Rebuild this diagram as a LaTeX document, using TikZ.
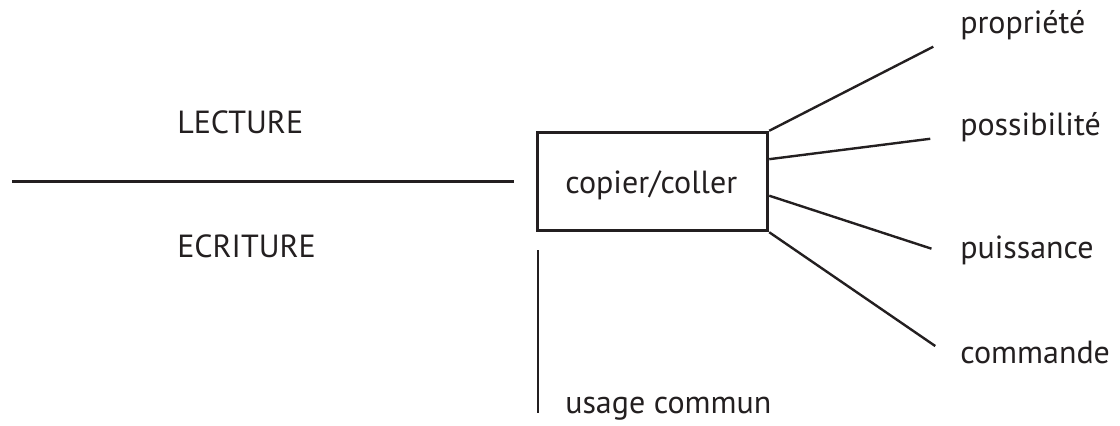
\documentclass[tikz,border=0pt]{standalone}
\usepackage{fontspec}
\setmainfont{PT Sans}
\usetikzlibrary{calc}
\definecolor{ink}{HTML}{231F20}

\begin{document}
\begin{tikzpicture}[x = 0.75pt, y = -0.75pt]
\tikzstyle{BoxStyle}=[shape = rectangle,
                      minimum width = 173pt,
                      minimum height = 74pt,
                      line width = 2.1pt,
                      draw = ink]
\tikzstyle{LabelStyle}=[inner sep = 0pt,
                        anchor = base west,
                        text = ink,
                        font = \fontsize{24}{29}\selectfont]
\tikzstyle{LinkStyle}=[line width = 1.8pt, draw = ink]
\useasboundingbox (0,0) rectangle (1120,425);
\node[BoxStyle] (box) at (652.5,181.5) {};
\node[LabelStyle] (copier) at (565,193) {copier/coller};
\node[LabelStyle] (lecture) at (177,133) {LECTURE};
\node[LabelStyle] (ecriture) at (177,257) {ECRITURE};
\node[LabelStyle] (usage) at (565,413) {usage commun};
\node[LabelStyle] (propriete) at (960,33) {propriété};
\node[LabelStyle] (possibilite) at (960,135) {possibilité};
\node[LabelStyle] (puissance) at (960,258) {puissance};
\node[LabelStyle] (commande) at (960,363) {commande};
\coordinate (left) at (12,181.5);
\coordinate (top) at (538,250);
\coordinate (bottom) at (538,413);
\draw[LinkStyle] (left) -- ([xshift = -16.5pt]box.west);
\draw[LinkStyle] (top) -- (bottom);
\draw[LinkStyle, shorten > = 22.5pt] (box.north east) -- (propriete.base west);
\draw[LinkStyle, shorten > = 22.5pt] ($(box.north east)!0.28!(box.south east)$) -- (possibilite.base west);
\draw[LinkStyle, shorten > = 22.5pt] ($(box.north east)!0.64!(box.south east)$) -- (puissance.base west);
\draw[LinkStyle, shorten > = 22.5pt] (box.south east) -- (commande.base west);
\end{tikzpicture}
\end{document}
